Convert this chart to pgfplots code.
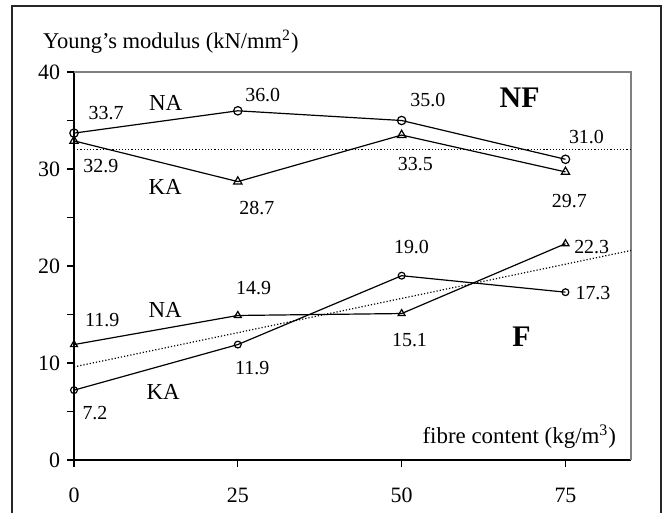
\documentclass[border=0pt]{standalone}
\usepackage{fontspec}
\setmainfont{Liberation Serif}
\usepackage{pgfplots}
\pgfplotsset{compat=1.18}
\begin{document}
\begin{tikzpicture}
\useasboundingbox (-37bp,-26.5bp) rectangle (296.5bp,230bp);
\draw[black!85, line width=0.8bp] (-31bp,-40bp) -- (-31bp,227bp) -- (293.5bp,227bp) -- (293.5bp,-40bp);
\begin{axis}[
  scale only axis, width=278.5bp, height=194bp,
  xmin=0, xmax=85, ymin=0, ymax=40,
  axis lines=left, axis line style={-, line width=0.7bp},
  xtick={0,25,50,75}, ytick={0,10,20,30,40},
  minor ytick={5,15,25,35},
  tick align=outside, major tick length=3.5bp, minor tick length=3.5bp,
  tick style={black, line width=0.6bp},
  /pgf/number format/assume math mode=true,
  ticklabel style={font=\fontsize{11}{13}\selectfont},
  xticklabel style={yshift=-7bp},
  clip=false,
  every node/.style={font=\fontsize{10.5}{12}\selectfont},
]
\draw[black!50, line width=0.6bp] (rel axis cs:0,1) -- (rel axis cs:1,1) -- (rel axis cs:1,0);
% reference lines
\addplot[densely dotted, line width=0.6bp, forget plot] coordinates {(0,32) (85,32)};
\addplot[densely dotted, line width=0.6bp, forget plot] coordinates {(0,9.6) (85,21.6)};
% upper group
\addplot[black, line width=0.6bp, mark=o, mark size=2.1bp, mark options={fill=white, solid}] coordinates {(0,33.7) (25,36.0) (50,35.0) (75,31.0)};
\addplot[black, line width=0.6bp, mark=triangle, mark size=2.4bp, mark options={fill=white, solid}] coordinates {(0,32.9) (25,28.7) (50,33.5) (75,29.7)};
% lower group
\addplot[black, line width=0.6bp, mark=triangle, mark size=2.0bp, mark options={fill=white, solid}] coordinates {(0,11.9) (25,14.9) (50,15.1) (75,22.3)};
\addplot[black, line width=0.6bp, mark=o, mark size=1.7bp, mark options={fill=white, solid}] coordinates {(0,7.2) (25,11.9) (50,19.0) (75,17.3)};
% labels
\node at (axis cs:4.9,35.8) {33.7};
\node[font=\fontsize{11.5}{13}\selectfont] at (axis cs:14.0,36.8) {NA};
\node at (axis cs:28.8,37.6) {36.0};
\node at (axis cs:54.0,37.1) {35.0};
\node[font=\fontsize{15}{17}\selectfont\bfseries] at (axis cs:68.0,37.3) {NF};
\node at (axis cs:78.2,33.3) {31.0};
\node at (axis cs:4.1,30.3) {32.9};
\node[font=\fontsize{11.5}{13}\selectfont] at (axis cs:13.9,28.2) {KA};
\node at (axis cs:27.9,26.0) {28.7};
\node at (axis cs:52.1,30.5) {33.5};
\node at (axis cs:75.6,26.7) {29.7};
\node at (axis cs:79.0,22.0) {22.3};
\node at (axis cs:51.5,22.0) {19.0};
\node at (axis cs:79.2,17.2) {17.3};
\node at (axis cs:51.2,12.4) {15.1};
\node[font=\fontsize{15}{17}\selectfont\bfseries] at (axis cs:68.3,12.7) {F};
\node at (axis cs:4.3,14.4) {11.9};
\node[font=\fontsize{11.5}{13}\selectfont] at (axis cs:13.9,15.5) {NA};
\node at (axis cs:27.4,17.7) {14.9};
\node at (axis cs:27.2,9.5) {11.9};
\node[font=\fontsize{11.5}{13}\selectfont] at (axis cs:13.6,7.0) {KA};
\node at (axis cs:3.2,4.8) {7.2};
\node[anchor=east, font=\fontsize{11.5}{13}\selectfont] at (axis cs:83.8,2.4) {fibre content (kg/m\textsuperscript{3})};
\node[anchor=west, font=\fontsize{11.3}{13}\selectfont] at (axis cs:-5.8,43.1) {Young's modulus (kN/mm\textsuperscript{2})};
\end{axis}
\end{tikzpicture}
\end{document}
